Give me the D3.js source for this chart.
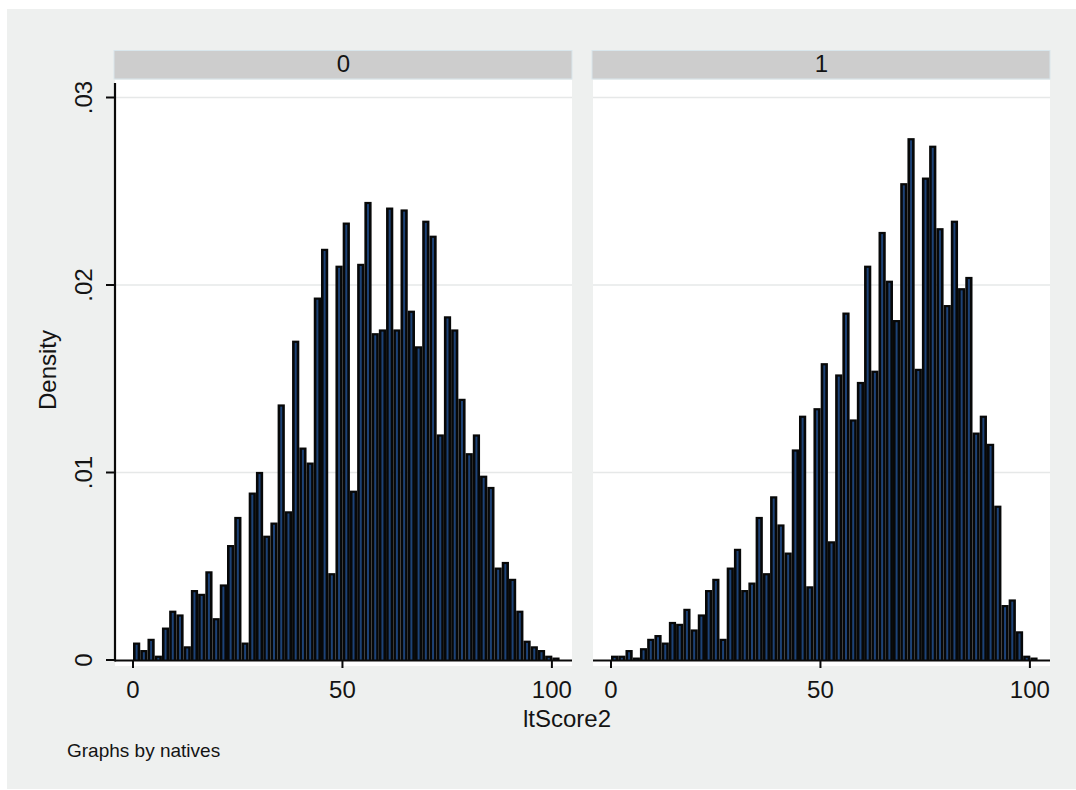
<!DOCTYPE html>
<html>
<head>
<meta charset="utf-8">
<script src="https://cdn.jsdelivr.net/npm/d3@7"></script>
<style>
  html, body { margin: 0; padding: 0; background: #ffffff; }
  svg { display: block; }
  text { font-family: "Liberation Sans", Arial, sans-serif; fill: #141414; }
</style>
</head>
<body>
<svg id="chart" width="1076" height="790"></svg>
<script>
// Histogram of ltScore2 by natives (density scale), one panel per group
const groups = ["0", "1"];
const binWidth = 1.726;   // width of each histogram bin in ltScore2 units

// density of each bin, starting at ltScore2 = 0
const density0 = [
  0.0009, 0.0005, 0.0011, 0.0002, 0.0017, 0.0026, 0.0024, 0.0007, 0.0037, 0.0035,
  0.0047, 0.0022, 0.0040, 0.0061, 0.0076, 0.0009, 0.0089, 0.0100, 0.0066, 0.0073,
  0.0136, 0.0079, 0.0170, 0.0113, 0.0105, 0.0193, 0.0219, 0.0046, 0.0210, 0.0233,
  0.0090, 0.0211, 0.0244, 0.0174, 0.0176, 0.0241, 0.0176, 0.0240, 0.0186, 0.0167,
  0.0234, 0.0226, 0.0120, 0.0183, 0.0176, 0.0139, 0.0110, 0.0120, 0.0098, 0.0092,
  0.0049, 0.0052, 0.0043, 0.0026, 0.0010, 0.0007, 0.0005, 0.0002, 0.0001
];
const density1 = [
  0.0002, 0.0002, 0.0005, 0.0001, 0.0006, 0.0011, 0.0013, 0.0009, 0.0020, 0.0019,
  0.0027, 0.0016, 0.0024, 0.0037, 0.0043, 0.0011, 0.0049, 0.0059, 0.0037, 0.0041,
  0.0076, 0.0046, 0.0087, 0.0072, 0.0057, 0.0112, 0.0130, 0.0039, 0.0134, 0.0158,
  0.0063, 0.0152, 0.0185, 0.0128, 0.0148, 0.0210, 0.0154, 0.0228, 0.0202, 0.0181,
  0.0254, 0.0278, 0.0155, 0.0257, 0.0274, 0.0230, 0.0189, 0.0234, 0.0198, 0.0204,
  0.0121, 0.0130, 0.0115, 0.0082, 0.0029, 0.0032, 0.0015, 0.0002, 0.0001
];

const xTicks = [0, 50, 100];
const yTicks = [0, 0.01, 0.02, 0.03];
const yTickLabels = ["0", ".01", ".02", ".03"];
const xTitle = "ltScore2";
const yTitle = "Density";
const note = "Graphs by natives";

const svg = d3.select("#chart");

// outer graph region
svg.append("rect").attr("x", 7).attr("y", 9).attr("width", 1069).attr("height", 780)
  .attr("fill", "#eef0ef");

const panelW = 457;
const panelLeft = [115, 593];
const plotTop = 80, plotBottom = 666;

const y = d3.scaleLinear().domain([0, 0.03]).range([660, 97.5]);

const panels = [density0, density1];

panels.forEach((dens, p) => {
  const left = panelLeft[p];
  const x = d3.scaleLinear().domain([-4.3, 104.8]).range([left, left + panelW]);
  const g = svg.append("g");

  // plot region
  g.append("rect").attr("x", left).attr("y", plotTop)
    .attr("width", panelW).attr("height", plotBottom - plotTop)
    .attr("fill", "#ffffff");

  // strip with the group label
  g.append("rect").attr("x", left - 1).attr("y", 50.5)
    .attr("width", panelW + 1).attr("height", 28.5)
    .attr("fill", "#cdcdcd").attr("stroke", "#d9e6ec").attr("stroke-width", 1);
  g.append("text").attr("x", left + panelW / 2).attr("y", 72)
    .attr("text-anchor", "middle").attr("font-size", 24)
    .text(groups[p]);

  // horizontal grid lines
  g.selectAll("line.grid").data(yTicks.slice(1)).join("line")
    .attr("x1", left).attr("x2", left + panelW)
    .attr("y1", d => y(d)).attr("y2", d => y(d))
    .attr("stroke", "#e6e8e8").attr("stroke-width", 1.6);

  // bars: dark body with a navy core
  const bins = dens.map((d, i) => ({ x0: i * binWidth, x1: (i + 1) * binWidth, d }));
  g.selectAll("rect.bar").data(bins).join("rect")
    .attr("x", b => x(b.x0)).attr("width", b => x(b.x1) - x(b.x0))
    .attr("y", b => y(b.d) - 0.6).attr("height", b => y(0) - y(b.d) + 0.6)
    .attr("fill", "#070808");
  g.selectAll("rect.core").data(bins).join("rect")
    .attr("x", b => (x(b.x0) + x(b.x1)) / 2 - 1).attr("width", 2)
    .attr("y", b => y(b.d) + 1.6)
    .attr("height", b => Math.max(0, y(0) - y(b.d) - 1.6))
    .attr("fill", "#1d4276");

  // x axis
  const xAxis = g.append("g").attr("transform", `translate(0,${y(0)})`);
  xAxis.append("line").attr("x1", left).attr("x2", left + panelW)
    .attr("y1", 0.5).attr("y2", 0.5).attr("stroke", "#0a0a0a").attr("stroke-width", 2.2);
  xAxis.selectAll("line.tick").data(xTicks).join("line")
    .attr("x1", d => x(d)).attr("x2", d => x(d))
    .attr("y1", 0.5).attr("y2", 8).attr("stroke", "#0a0a0a").attr("stroke-width", 2);
  xAxis.selectAll("text").data(xTicks).join("text")
    .attr("x", d => x(d)).attr("y", 38)
    .attr("text-anchor", "middle").attr("font-size", 24)
    .text(d => d3.format("d")(d));

  // y axis on the first panel only
  if (p === 0) {
    const yAxis = g.append("g");
    yAxis.append("line").attr("x1", left).attr("x2", left)
      .attr("y1", 83).attr("y2", y(0) + 1.5)
      .attr("stroke", "#0a0a0a").attr("stroke-width", 2.2);
    yAxis.selectAll("line.tick").data(yTicks).join("line")
      .attr("x1", left - 9).attr("x2", left)
      .attr("y1", d => y(d)).attr("y2", d => y(d))
      .attr("stroke", "#0a0a0a").attr("stroke-width", 2);
    yAxis.selectAll("text").data(yTicks).join("text")
      .attr("transform", d => `translate(92,${y(d)}) rotate(-90)`)
      .attr("text-anchor", "middle").attr("font-size", 24)
      .text((d, i) => yTickLabels[i]);
  }
});

// axis titles and note
svg.append("text").attr("x", 567).attr("y", 727)
  .attr("text-anchor", "middle").attr("font-size", 24).text(xTitle);
svg.append("text").attr("transform", "translate(56,370) rotate(-90)")
  .attr("text-anchor", "middle").attr("font-size", 24).text(yTitle);
svg.append("text").attr("x", 67).attr("y", 757)
  .attr("font-size", 19).text(note);
</script>
</body>
</html>
